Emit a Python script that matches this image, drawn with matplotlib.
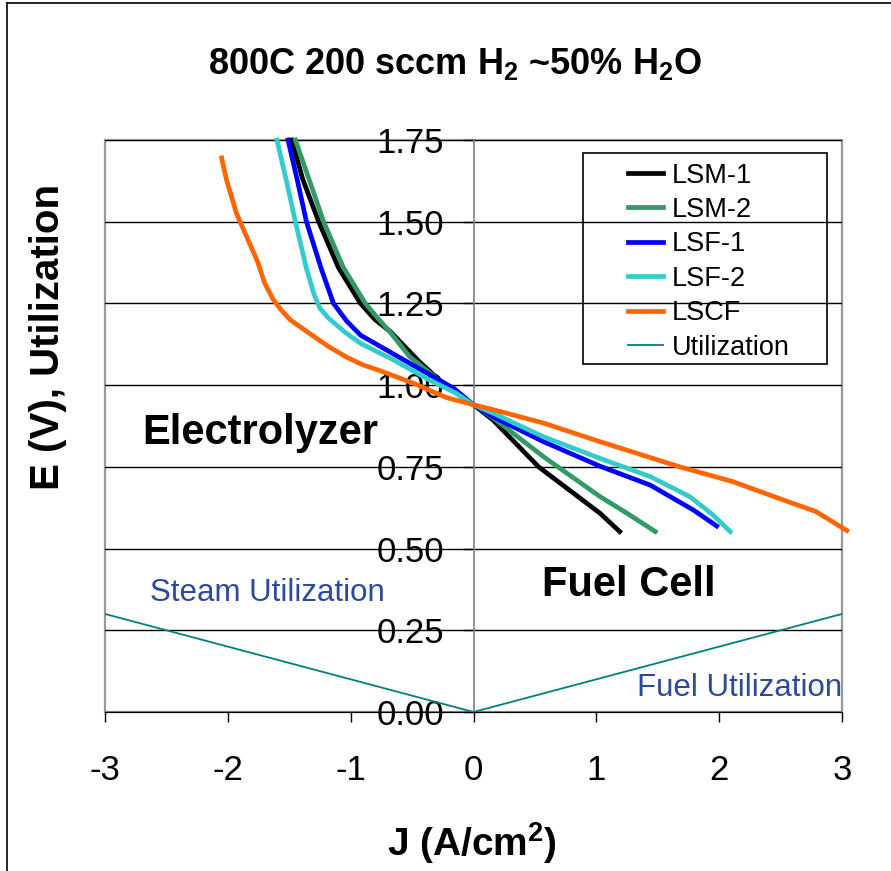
import numpy as np
import matplotlib
matplotlib.use('Agg')
from matplotlib import pyplot as plt
from matplotlib.patches import Rectangle
from matplotlib.lines import Line2D

plt.rcParams['font.family'] = ['Liberation Sans', 'DejaVu Sans']
plt.rcParams['mathtext.fontset'] = 'custom'
plt.rcParams['mathtext.rm'] = 'Liberation Sans:bold'
plt.rcParams['mathtext.default'] = 'rm'
plt.rcParams['axes.unicode_minus'] = False

# data (J in A/cm2, E in V)
lsm1_j = [-1.48, -1.39, -1.26, -1.10, -0.92, -0.80, -0.68, -0.45, -0.25, 0.0, 0.16, 0.53, 1.03, 1.19]
lsm1_e = [1.75, 1.63, 1.50, 1.36, 1.25, 1.20, 1.165, 1.075, 1.005, 0.94, 0.893, 0.75, 0.608, 0.552]

lsm2_j = [-1.45, -1.33, -1.22, -1.06, -0.88, -0.78, -0.68, -0.52, -0.25, 0.0, 0.16, 0.57, 1.03, 1.25, 1.48]
lsm2_e = [1.75, 1.62, 1.50, 1.36, 1.25, 1.205, 1.163, 1.087, 1.005, 0.94, 0.90, 0.781, 0.659, 0.608, 0.552]

lsf1_j = [-1.51, -1.43, -1.36, -1.24, -1.14, -1.03, -0.92, -0.65, -0.38, -0.16, 0.0, 0.16, 0.57, 1.03, 1.44, 1.79, 1.98]
lsf1_e = [1.75, 1.62, 1.50, 1.357, 1.25, 1.195, 1.153, 1.095, 1.037, 0.99, 0.94, 0.903, 0.827, 0.752, 0.694, 0.618, 0.569]

lsf2_j = [-1.60, -1.52, -1.45, -1.36, -1.30, -1.25, -1.18, -1.05, -0.92, -0.65, -0.38, -0.14, 0.0, 0.16, 0.57, 1.03, 1.22, 1.44, 1.76, 1.95, 2.09]
lsf2_e = [1.75, 1.62, 1.50, 1.357, 1.28, 1.235, 1.205, 1.163, 1.128, 1.077, 1.02, 0.975, 0.94, 0.914, 0.842, 0.776, 0.75, 0.72, 0.659, 0.603, 0.552]

lscf_j = [-2.05, -2.03, -2.01, -1.93, -1.87, -1.76, -1.70, -1.63, -1.57, -1.49, -1.33, -1.18, -1.03, -0.90, -0.76, -0.49, -0.22, 0.0, 0.16, 0.57, 1.03, 1.68, 2.11, 2.52, 2.79, 3.04]
lscf_e = [1.695, 1.66, 1.627, 1.526, 1.474, 1.38, 1.312, 1.262, 1.232, 1.199, 1.157, 1.118, 1.085, 1.062, 1.044, 1.006, 0.962, 0.94, 0.925, 0.884, 0.827, 0.75, 0.705, 0.649, 0.613, 0.555]

util_j = [-3, -2, -1, 0, 1, 2, 3]
util_e = [0.30, 0.20, 0.10, 0.0, 0.10, 0.20, 0.30]

series = [
    ('LSM-1', lsm1_j, lsm1_e, 'black'),
    ('LSM-2', lsm2_j, lsm2_e, '#339966'),
    ('LSF-1', lsf1_j, lsf1_e, '#0000FF'),
    ('LSF-2', lsf2_j, lsf2_e, '#33CCCC'),
    ('LSCF', lscf_j, lscf_e, '#FF6600'),
]

W, H = 891, 871
fig = plt.figure(figsize=(W / 100, H / 100), dpi=100)
ax = fig.add_axes([105 / W, 1 - 712 / H, (842 - 105) / W, (712 - 140) / H])

for name, j, e, c in series:
    ax.plot(j, e, color=c, lw=3.4, label=name, zorder=3, clip_on=False,
            solid_joinstyle='round')
ax.plot(util_j, util_e, color='#008080', lw=1.3, label='Utilization', zorder=3)

ax.set_xlim(-3, 3)
ax.set_ylim(0, 1.75)
ax.set_xticks(np.arange(-3, 4, 1))
ax.set_yticks(np.arange(0, 1.76, 0.25))
ax.set_yticklabels(['%.2f' % v for v in np.arange(0, 1.76, 0.25)])
ax.yaxis.grid(True, color='black', lw=1.0, zorder=1)
ax.set_axisbelow(True)

ax.spines['left'].set_position(('data', 0))
ax.spines['left'].set_color('#808080')
ax.spines['left'].set_linewidth(1.2)
ax.spines['bottom'].set_color('black')
ax.spines['top'].set_visible(False)
ax.spines['right'].set_visible(False)
ax.add_patch(Rectangle((0, 0), 1, 1, transform=ax.transAxes, fill=False,
                       edgecolor='#999999', lw=1.6, zorder=0.5, clip_on=False))

ax.tick_params(axis='y', direction='out', length=8, width=1, colors='black',
               labelsize=25, pad=13)
ax.tick_params(axis='x', direction='out', length=7, width=1, colors='black',
               labelsize=25, pad=23)

ax.text(-2.70, 0.853, 'Electrolyzer', fontsize=30, fontweight='bold', va='center', ha='left')
ax.text(0.558, 0.388, 'Fuel Cell', fontsize=30, fontweight='bold', va='center', ha='left')
ax.text(-2.63, 0.364, 'Steam Utilization', fontsize=22.5, color='#2B4A9A', va='center', ha='left')
ax.text(3.0, 0.073, 'Fuel Utilization', fontsize=22.5, color='#2B4A9A', va='center', ha='right')

leg = ax.legend(loc='upper left', bbox_to_anchor=(614 / W, 1 - 149 / H),
                bbox_transform=fig.transFigure, frameon=False, fontsize=19.5,
                handlelength=1.3, handletextpad=0.32, labelspacing=0.31, borderpad=0)
fig.add_artist(Rectangle((583 / W, 1 - 364 / H), (827 - 583) / W, (364 - 153) / H,
                         transform=fig.transFigure, fill=False, edgecolor='black', lw=1.2))

fig.text(455 / W, 1 - 64 / H, r'800C 200 sccm H$_2$ ~50% H$_2$O', fontsize=26,
         fontweight='bold', ha='center', va='center')
fig.text(472 / W, 1 - 843 / H, r'J (A/cm$^2$)', fontsize=28, fontweight='bold',
         ha='center', va='center')
fig.text(48 / W, 1 - 337 / H, 'E (V), Utilization', fontsize=29, fontweight='bold',
         ha='center', va='center', rotation=90)

# outer border (left and top only, as in the source)
fig.add_artist(Line2D([7 / W, 7 / W], [0, 1 - 3 / H], color='black', lw=1.2))
fig.add_artist(Line2D([7 / W, 1], [1 - 3 / H, 1 - 3 / H], color='black', lw=1.2))

fig.savefig('out.png', dpi=100)
